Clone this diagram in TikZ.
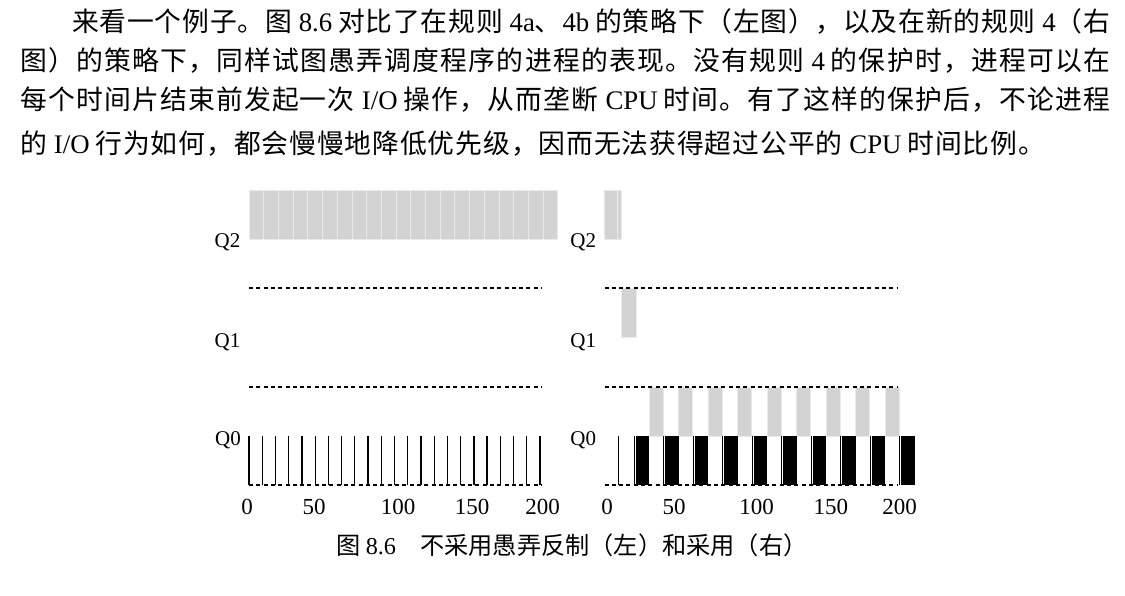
\documentclass[tikz,border=0pt]{standalone}
\usepackage{fontspec}
\setmainfont{Liberation Serif}
\newfontfamily\cjk{Noto Sans CJK SC}
\newcommand\lat[1]{{\rmfamily #1}}
\def\jzend{\jzend}
\def\jz#1{\jzloop#1\jzend}
\def\jzloop#1{\ifx#1\jzend\else #1\hskip0pt plus 1fil\relax\expandafter\jzloop\fi}
\definecolor{barg}{RGB}{211,211,211}
\definecolor{sepg}{RGB}{234,234,234}
\tikzset{
  dashln/.style={line width=1.1pt, dash pattern=on 4pt off 3.3pt},
  gbar/.style={fill=barg, draw=sepg, line width=0.8pt},
  bbar/.style={fill=black, draw=none},
  thinln/.style={line width=1pt},
  qzline/.style={line width=1.3pt},
  qlab/.style={font=\fontsize{21}{22}\selectfont, inner sep=0pt, anchor=base},
  ticklab/.style={font=\fontsize{23}{24}\selectfont, inner sep=0pt, anchor=base},
  para/.style={inner sep=0pt, anchor=base west, font=\cjk\fontsize{26.8}{40}\selectfont},
  caplab/.style={inner sep=0pt, anchor=base west, font=\cjk\fontsize{24.2}{26}\selectfont}
}
\begin{document}
\begin{tikzpicture}[x=1pt,y=-1pt]
\path[fill=white,use as bounding box] (0,0) rectangle (1125,596);

% paragraph
\node[para] (l1) at (72,32) {\hbox to 1038pt{\jz{来看一个例子。图} \lat{8.6} \jz{对比了在规则} \lat{4a}\jz{、}\lat{4b} \jz{的策略下（左图），以及在新的规则} \lat{4}\jz{（右}\unskip}};
\node[para] (l2) at (20,70.5) {\hbox to 1090pt{\jz{图）的策略下，同样试图愚弄调度程序的进程的表现。没有规则} \lat{4} \jz{的保护时，进程可以在}\unskip}};
\node[para] (l3) at (20,110) {\hbox to 1090pt{\jz{每个时间片结束前发起一次} \lat{I/O} \jz{操作，从而垄断} \lat{CPU} \jz{时间。有了这样的保护后，不论进程}\unskip}};
\node[para] (l4) at (20,154) {\hbox to 1025pt{\jz{的} \lat{I/O} \jz{行为如何，都会慢慢地降低优先级，因而无法获得超过公平的} \lat{CPU} \jz{时间比例。}\unskip}};

% left chart
\begin{scope}[shift={(249,0)}, x=1.47pt]
  \foreach \k in {0,...,20} \draw[gbar] ({10*\k},190) rectangle ({10*\k+10},239);
  \foreach \k in {0,...,22} \draw[qzline] ({9*\k},436) -- ({9*\k},485);
  \draw[dashln] (0,288) -- (199.5,288);
  \draw[dashln] (0,387) -- (199.5,387);
  \draw[dashln] (0,485) -- (199.5,485);
\end{scope}

% right chart
\begin{scope}[shift={(604.5,0)}, x=1.475pt]
  \draw[gbar] (0,190) rectangle (9,239);
  \draw[gbar] (9,190) rectangle (11.3,239);
  \draw[gbar] (11.2,288) rectangle (21.8,337);
  \foreach \k in {1,...,9} \draw[gbar] ({20*\k+10.2},387) rectangle ({20*\k+19.6},436);
  \foreach \k in {1,...,10} {
    \fill[bbar] ({20*\k+1.3},436) rectangle ({20*\k+10.2},485);
    \draw[thinln] ({20*\k+0.3},436) -- ({20*\k+0.3},485);
  }
  \draw[thinln] (9.3,436) -- (9.3,485);
  \draw[dashln] (0,288) -- (199,288);
  \draw[dashln] (0,387) -- (199,387);
  \draw[dashln] (0,485) -- (199,485);
\end{scope}

% queue labels
\node[qlab] (lq2) at (227.5,248) {Q2};
\node[qlab] (lq1) at (227.5,347) {Q1};
\node[qlab] (lq0) at (228,445) {Q0};
\node[qlab] (rq2) at (583.3,248) {Q2};
\node[qlab] (rq1) at (583.3,347) {Q1};
\node[qlab] (rq0) at (583.3,445) {Q0};

% tick labels
\node[ticklab] (lt0) at (247,514) {0};
\node[ticklab] (lt50) at (314,514) {50};
\node[ticklab] (lt100) at (398,514) {100};
\node[ticklab] (lt150) at (472,514) {150};
\node[ticklab] (lt200) at (542.5,514) {200};
\node[ticklab] (rt0) at (607,514) {0};
\node[ticklab] (rt50) at (674,514) {50};
\node[ticklab] (rt100) at (756.7,514) {100};
\node[ticklab] (rt150) at (830.8,514) {150};
\node[ticklab] (rt200) at (899.5,514) {200};

% caption
\node[caplab] (cap) at (336,554) {图 \lat{8.6}\hspace{1em}不采用愚弄反制（左）和采用（右）};
\end{tikzpicture}
\end{document}
